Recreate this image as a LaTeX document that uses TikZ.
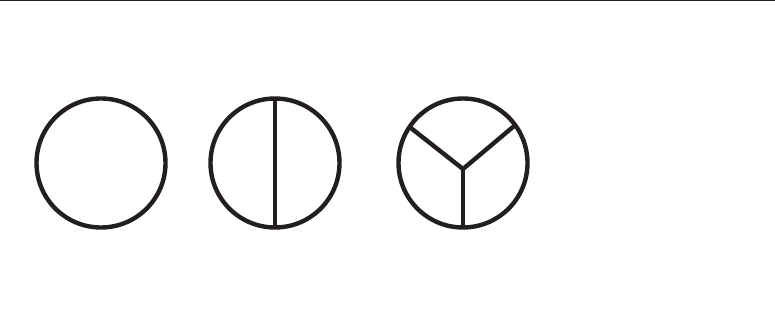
\documentclass[tikz,border=0pt]{standalone}
\usepackage{tikz}
\definecolor{ink}{HTML}{231F20}

\begin{document}
\begin{tikzpicture}[x=1pt,y=1pt,line width=4.4pt,draw=ink,
  disc/.style={circle,draw=ink,minimum size=129pt,inner sep=0pt,outer sep=0pt}]
  \useasboundingbox (0,0) rectangle (775,324);
  \draw[line width=1.2pt] (0,323.4) -- (775,323.4);
  \node[disc] (whole) at (101,161) {};
  \node[disc] (half) at (275,161) {};
  \node[disc] (three) at (463,161) {};
  \draw[ink] (half.north) -- (half.south);
  \coordinate (mid) at ([yshift=-6pt]three.center);
  \draw[ink,line join=miter] (three.146) -- (mid) -- (three.36);
  \draw[ink] (mid) -- (three.south);
\end{tikzpicture}
\end{document}
